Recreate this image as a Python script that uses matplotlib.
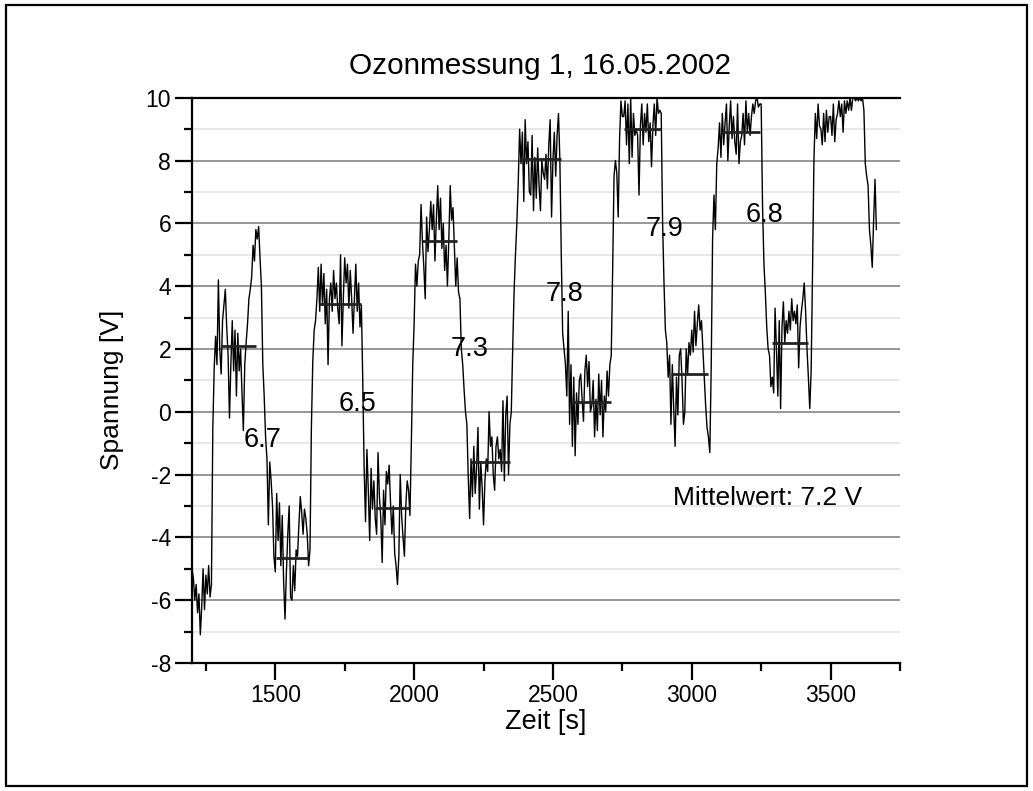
import numpy as np
import matplotlib
matplotlib.use('Agg')
import matplotlib.pyplot as plt
from matplotlib.ticker import MultipleLocator
from matplotlib.patches import Rectangle

plt.rcParams['font.family'] = ['Liberation Sans', 'DejaVu Sans']
plt.rcParams['axes.unicode_minus'] = False

T_START = 1200
DT = 5
spannung = [
    -5.0, -5.3, -6.0, -5.5, -6.4, -5.8, -7.1, -6.2, -5.0, -6.3,   # 1200
    -5.2, -5.8, -4.9, -5.9, -5.5, -0.5, 1.4, 2.4, 1.5, 4.2,       # 1250
    2.0, 1.2, 2.9, 3.4, 3.9, 2.7, 1.8, -0.2, 1.5, 2.9,            # 1300
    1.3, 2.6, 0.5, 2.5, 1.3, 2.0, 0.6, -0.6, 1.5, 2.2,            # 1350
    2.8, 3.6, 3.9, 4.3, 5.3, 4.8, 5.8, 5.5, 5.9, 4.9,             # 1400
    4.0, 1.5, 0.5, -0.8, -1.5, -3.6, -1.6, -2.2, -3.0, -4.6,      # 1450
    -5.1, -2.6, -4.1, -2.9, -4.9, -3.3, -5.4, -6.6, -5.1, -3.9,   # 1500
    -3.0, -5.9, -6.0, -4.9, -5.7, -4.4, -4.6, -3.6, -2.7, -3.2,   # 1550
    -3.9, -3.1, -3.4, -3.9, -4.9, -4.4, -0.5, 1.6, 2.6, 2.9,      # 1600
    3.6, 4.6, 3.2, 4.7, 3.4, 4.4, 2.8, 3.9, 1.5, 3.6,             # 1650
    4.1, 3.2, 4.5, 3.6, 4.1, 3.3, 2.8, 5.0, 2.1, 3.6,             # 1700
    4.9, 4.1, 4.7, 3.3, 4.5, 3.6, 2.5, 3.6, 4.7, 3.2,             # 1750
    4.1, 2.7, 3.4, 1.0, -1.8, -3.5, -1.2, -2.5, -4.1, -1.8,       # 1800
    -3.1, -2.2, -3.4, -3.9, -1.3, -2.7, -3.4, -4.8, -2.5, -3.6,   # 1850
    -1.9, -2.3, -1.7, -2.9, -3.9, -3.0, -4.5, -4.9, -5.5, -4.6,   # 1900
    -2.0, -3.3, -4.0, -4.6, -3.0, -2.2, -2.5, -3.3, -1.0, 1.5,    # 1950
    2.8, 4.7, 4.0, 4.8, 5.0, 6.6, 5.4, 4.6, 3.6, 6.2,             # 2000
    5.1, 5.8, 6.7, 5.8, 6.6, 4.8, 6.1, 7.2, 5.8, 6.8,             # 2050
    5.2, 6.0, 4.5, 5.3, 4.0, 5.5, 7.2, 6.1, 6.5, 5.2,             # 2100
    4.0, 4.9, 3.8, 3.6, 2.0, 1.5, 0.7, 0.0, -0.4, -2.1,           # 2150
    -3.4, -1.5, -2.7, -1.1, -2.6, -1.8, -0.5, -3.1, -1.6, -2.4,   # 2200
    -3.6, -2.2, -1.5, -1.9, 0.0, -1.1, -0.8, -2.0, -2.5, -1.1,    # 2250
    -0.8, -1.5, -1.2, -1.9, 0.35, -2.2, -0.1, 0.5, -2.0, -0.4,    # 2300
    0.0, 2.0, 3.8, 5.0, 6.0, 7.3, 9.0, 7.9, 8.9, 6.7,             # 2350
    9.3, 7.9, 8.6, 7.0, 6.9, 8.8, 6.4, 8.1, 6.8, 8.4,             # 2400
    7.2, 6.4, 8.0, 7.6, 7.4, 8.2, 7.1, 8.5, 9.3, 6.2,             # 2450
    8.0, 8.9, 7.5, 8.8, 9.5, 8.0, 5.0, 2.5, 2.0, 1.5,             # 2500
    0.5, 3.2, -0.4, 1.5, -1.1, 1.1, -1.4, 0.6, -0.4, 1.0,         # 2550
    1.2, 0.4, -0.3, 1.3, 1.8, 0.8, 1.6, 0.0, 0.2, 1.0,            # 2600
    -0.8, 0.4, -0.6, 1.2, -0.1, 1.0, -0.8, 0.5, 0.0, 1.3,         # 2650
    0.5, 1.5, 1.8, 4.5, 7.5, 8.0, 7.6, 6.2, 8.7, 9.9,             # 2700
    9.4, 9.4, 9.9, 8.5, 9.8, 7.9, 10.0, 8.1, 9.5, 8.8,            # 2750
    9.0, 8.8, 6.9, 9.1, 9.8, 8.5, 9.5, 8.9, 9.8, 8.6,             # 2800
    9.2, 7.8, 9.1, 9.8, 8.8, 10.0, 9.5, 9.6, 9.5, 6.0,            # 2850
    4.1, 2.6, 2.2, 1.1, 1.8, -0.4, 1.5, 0.1, -1.1, 1.1,           # 2900
    -0.1, 1.8, 2.0, 1.0, -0.4, 0.0, 2.0, 1.2, 2.2, 1.8,           # 2950
    2.6, 1.9, 3.2, 2.1, 2.8, 3.4, 2.6, 2.9, 2.0, 1.1,             # 3000
    0.2, -0.5, -0.8, -1.3, 1.4, 5.5, 6.9, 5.8, 7.9, 8.4,          # 3050
    9.2, 8.1, 9.5, 8.5, 9.2, 9.8, 8.0, 9.1, 9.9, 8.7,             # 3100
    9.4, 8.6, 8.2, 9.8, 7.9, 8.6, 8.8, 9.5, 8.5, 9.9,             # 3150
    8.9, 9.5, 8.8, 9.4, 9.8, 9.5, 9.9, 10.0, 9.7, 9.8,            # 3200
    9.8, 6.5, 4.7, 3.8, 2.7, 2.0, 1.8, 0.8, 1.1, 0.6,             # 3250
    3.3, 2.0, 0.5, 2.9, 0.1, 2.7, 3.5, 2.2, 2.9, 2.5,             # 3300
    3.2, 2.6, 3.6, 2.9, 3.2, 2.8, 3.4, 1.4, 2.7, 3.2,             # 3350
    3.6, 4.1, 3.2, 2.0, 1.1, 0.1, 1.3, 4.5, 8.0, 9.5,             # 3400
    8.7, 9.8, 9.1, 9.0, 8.5, 9.5, 8.6, 9.6, 8.9, 9.4,             # 3450
    9.4, 8.8, 9.8, 8.6, 9.3, 9.5, 9.9, 9.4, 9.8, 8.9,             # 3500
    9.9, 9.5, 9.9, 9.6, 10.0, 9.6, 10.0, 10.0, 9.9, 10.0,         # 3550
    9.9, 10.0, 9.9, 10.0, 9.6, 7.9, 7.5, 7.2, 5.8, 5.3,           # 3600
    4.6, 6.1, 7.4, 5.8,                                           # 3650
]
zeit = T_START + DT * np.arange(len(spannung))

# Mittelwerte der einzelnen Plateaus
mittel_von = [1305, 1503, 1658, 1860, 2030, 2200, 2390, 2570, 2755, 2925, 3105, 3290]
mittel_bis = [1432, 1617, 1808, 1982, 2156, 2345, 2530, 2710, 2890, 3060, 3245, 3420]
mittel_wert = [2.1, -4.65, 3.42, -3.05, 5.45, -1.6, 8.05, 0.3, 9.0, 1.2, 8.9, 2.2]

# Differenzen (Beschriftung im Diagramm)
diff_text = ['6.7', '6.5', '7.3', '7.8', '7.9', '6.8']
diff_x = [1453, 1797, 2199, 2543, 2902, 3261]
diff_y = [-0.9, 0.24, 2.0, 3.74, 5.82, 6.27]

W, H = 1033, 791
fig = plt.figure(figsize=(W / 100, H / 100), dpi=100)
ax = fig.add_axes([192 / W, 1 - 663 / H, (900 - 192) / W, (663 - 97.7) / H])

ax.plot(zeit, spannung, color='black', lw=1.0, zorder=3)
ax.hlines(mittel_wert, mittel_von, mittel_bis, color='#222222', lw=2.0, zorder=4)

for txt, x, y in zip(diff_text, diff_x, diff_y):
    ax.text(x, y, txt, fontsize=19.5, ha='center', va='center', zorder=5)
ax.text(2931, -2.76, 'Mittelwert: 7.2 V', fontsize=19, ha='left', va='center')

ax.set_xlim(1200, 3750)
ax.set_ylim(-8, 10)
ax.xaxis.set_major_locator(MultipleLocator(500))
ax.xaxis.set_minor_locator(MultipleLocator(250))
ax.yaxis.set_major_locator(MultipleLocator(2))
ax.yaxis.set_minor_locator(MultipleLocator(1))

# horizontale Gitterlinien
ax.grid(which='major', axis='y', color='#8f8f8f', lw=1.3)
ax.grid(which='minor', axis='y', color='#e2e2e2', lw=1.1)
ax.set_axisbelow(True)

ax.spines['right'].set_visible(False)
for s in ['left', 'bottom', 'top']:
    ax.spines[s].set_linewidth(1.6)
ax.tick_params(which='major', length=12, width=1.6, labelsize=16.5, pad=3)
ax.tick_params(which='minor', length=6, width=1.6)

fig.text(540 / W, 1 - 66 / H, 'Ozonmessung 1, 16.05.2002', fontsize=21.4,
         ha='center', va='center')
fig.text(546 / W, 1 - 722 / H, 'Zeit [s]', fontsize=19.5, ha='center', va='center')
fig.text(112 / W, 1 - 390 / H, 'Spannung [V]', fontsize=19, ha='center',
         va='center', rotation=90)

# Rahmen um das ganze Bild
fig.patches.append(Rectangle((6 / W, 5 / H), 1021 / W, 781 / H, fill=False,
                             edgecolor='black', lw=1.6, transform=fig.transFigure))

fig.savefig('out.png', dpi=100)
